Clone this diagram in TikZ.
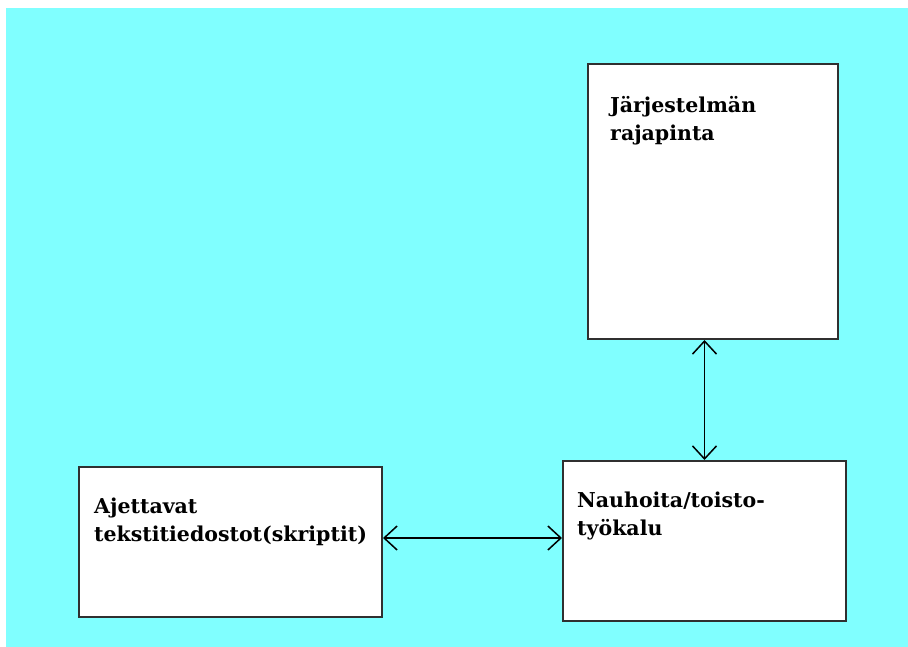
\documentclass[tikz,border=0pt]{standalone}
\usepackage{fontspec}
\setmainfont{DejaVu Serif}
\usetikzlibrary{arrows.meta}
\definecolor{bgcyan}{HTML}{80FFFF}
\definecolor{edge}{HTML}{303030}
\tikzset{
  box/.style={draw=edge, line width=2pt, fill=white, inner sep=0pt},
  lbl/.style={anchor=base west, inner sep=0pt, font=\bfseries\fontsize{20.5}{28}\selectfont, align=left},
  biarrow/.style={line width=1.4pt, {Straight Barb[length=13pt,width=24pt,line width=1.5pt]}-{Straight Barb[length=13pt,width=24pt,line width=1.5pt]}}
}
\begin{document}
\begin{tikzpicture}[x=1pt,y=-1pt]
\useasboundingbox (0,0) rectangle (908,647);
\fill[white] (0,0) rectangle (908,647);
\fill[bgcyan] (6,8) rectangle (908,647);
\node[box, minimum width=250pt, minimum height=275pt] (top) at (713,201.5) {};
\node[box, minimum width=283pt, minimum height=160pt] (br) at (704.5,541) {};
\node[box, minimum width=303pt, minimum height=150pt] (left) at (230.5,542) {};
\node[lbl] (t1) at (610,141) {Järjestelmän\\rajapinta};
\node[lbl] (t2) at (577,535) {Nauhoita/toisto-\\työkalu};
\node[lbl] (t3) at (94,541) {Ajettavat\\tekstitiedostot(skriptit)};
\draw[biarrow] (top.south -| br.north) -- (br.north);
\draw[biarrow] (left.east |- 0,538) -- (br.west |- 0,538);
\end{tikzpicture}
\end{document}
